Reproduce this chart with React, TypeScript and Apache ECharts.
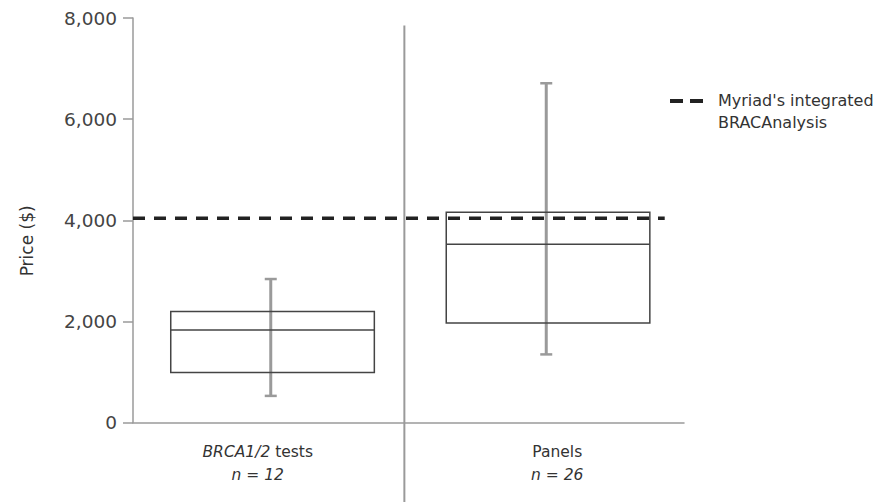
import React, { useEffect, useRef } from "react";
import * as echarts from "echarts";

const categories = ["BRCA1/2 tests", "Panels"];
const sampleSizes = [12, 26];
const whiskerLow = [530, 1350];
const quartile1 = [990, 1970];
const medians = [1830, 3530];
const quartile3 = [2200, 4160];
const whiskerHigh = [2840, 6710];
const myriadPrice = 4040;
const myriadLineEnd = 1.93; // on the hidden 0..2 value axis
const dividerPos = [0.985, 7850];
const yMin = 0;
const yMax = 8000;
const yInterval = 2000;
const legendName = "Myriad's integrated BRACAnalysis";

const FONT = "DejaVu Sans";

export default function App() {
  const ref = useRef<HTMLDivElement>(null);
  useEffect(() => {
    if (!ref.current) return;
    const chart = echarts.init(ref.current, null, { renderer: "svg" });
    const boxData = categories.map((_, i) => [
      i,
      whiskerLow[i],
      quartile1[i],
      medians[i],
      quartile3[i],
      whiskerHigh[i],
    ]);
    const option: any = {
      animation: false,
      backgroundColor: "#ffffff",
      grid: {
        left: 133,
        right: 199,
        top: 18,
        bottom: 79.3,
        containLabel: false,
        outerBoundsMode: "none",
      },
      legend: {
        data: [legendName],
        left: 670,
        top: 89,
        padding: 0,
        itemWidth: 43,
        itemHeight: 24,
        icon:
          "path://M0,0h13v4h-13z M20,0h13v4h-13z M0,23.9h0.1v0.1h-0.1z M42.9,23.9h0.1v0.1h-0.1z",
        itemStyle: { color: "#222", borderWidth: 0 },
        formatter: () => "Myriad's integrated\nBRACAnalysis",
        textStyle: {
          fontFamily: FONT,
          fontSize: 16,
          color: "#333",
          lineHeight: 22,
        },
      },
      xAxis: [
        {
          type: "category",
          data: categories,
          boundaryGap: true,
          axisLine: { show: true, lineStyle: { color: "#9a9a9a", width: 1.5 } },
          axisTick: { show: false },
          splitLine: { show: false },
          axisLabel: {
            margin: 18,
            interval: 0,
            formatter: (value: string, index: number) => {
              if (index === 0) {
                return `{i|BRCA1/2}{rp| tests}\n{ip|n = ${sampleSizes[0]}}`;
              }
              return `{rq|${value}}\n{iq|n = ${sampleSizes[1]}}`;
            },
            rich: {
              i: { fontFamily: FONT, fontSize: 15.5, fontStyle: "italic", color: "#333", lineHeight: 23 },
              rp: { fontFamily: FONT, fontSize: 15.5, color: "#333", lineHeight: 23, padding: [0, 26, 0, 0] },
              ip: { fontFamily: FONT, fontSize: 15.5, fontStyle: "italic", color: "#333", lineHeight: 23, padding: [0, 26, 0, 0] },
              rq: { fontFamily: FONT, fontSize: 15.5, color: "#333", lineHeight: 23, padding: [0, 0, 0, 22] },
              iq: { fontFamily: FONT, fontSize: 15.5, fontStyle: "italic", color: "#333", lineHeight: 23, padding: [0, 0, 0, 22] },
            },
          },
        },
        {
          type: "value",
          min: 0,
          max: 2,
          show: false,
        },
      ],
      yAxis: {
        type: "value",
        min: yMin,
        max: yMax,
        interval: yInterval,
        name: "Price ($)",
        nameLocation: "middle",
        nameGap: 98,
        nameTextStyle: {
          fontFamily: FONT,
          fontSize: 17,
          color: "#333",
          padding: [0, 41, 0, 0],
        },
        axisLine: { show: true, lineStyle: { color: "#9a9a9a", width: 1.5 } },
        axisTick: { show: true, inside: false, length: 10, lineStyle: { color: "#9a9a9a", width: 1.5 } },
        splitLine: { show: false },
        axisLabel: {
          margin: 16,
          fontFamily: FONT,
          fontSize: 18.5,
          color: "#444",
          formatter: (v: number) => v.toLocaleString("en-US"),
        },
      },
      series: [
        {
          type: "custom",
          name: "divider",
          xAxisIndex: 1,
          yAxisIndex: 0,
          data: [dividerPos],
          silent: true,
          clip: false,
          z: 1,
          renderItem: (params: any, api: any) => {
            const p = api.coord([api.value(0), api.value(1)]);
            return {
              type: "line",
              shape: { x1: p[0], y1: p[1], x2: p[0], y2: api.getHeight() },
              style: { stroke: "#9a9a9a", lineWidth: 2 },
            };
          },
        },
        {
          type: "custom",
          name: "boxes",
          xAxisIndex: 0,
          yAxisIndex: 0,
          data: boxData,
          encode: { x: 0, y: [1, 2, 3, 4, 5] },
          z: 2,
          renderItem: (params: any, api: any) => {
            const idx = api.value(0);
            const lowP = api.coord([idx, api.value(1)]);
            const q1P = api.coord([idx, api.value(2)]);
            const medP = api.coord([idx, api.value(3)]);
            const q3P = api.coord([idx, api.value(4)]);
            const highP = api.coord([idx, api.value(5)]);
            const band = api.size([1, 0])[0];
            const cx = lowP[0];
            const left = cx - band * 0.363;
            const right = cx + band * 0.376;
            const cap = 6;
            const whisk = { stroke: "#9a9a9a", lineWidth: 3 };
            const capStyle = { stroke: "#9a9a9a", lineWidth: 2.5 };
            const boxStyle = { stroke: "#444", lineWidth: 1.5, fill: "none" };
            return {
              type: "group",
              children: [
                { type: "line", shape: { x1: cx, y1: highP[1], x2: cx, y2: lowP[1] }, style: whisk },
                { type: "line", shape: { x1: cx - cap, y1: highP[1], x2: cx + cap, y2: highP[1] }, style: capStyle },
                { type: "line", shape: { x1: cx - cap, y1: lowP[1], x2: cx + cap, y2: lowP[1] }, style: capStyle },
                {
                  type: "rect",
                  shape: { x: left, y: q3P[1], width: right - left, height: q1P[1] - q3P[1] },
                  style: boxStyle,
                },
                { type: "line", shape: { x1: left, y1: medP[1], x2: right, y2: medP[1] }, style: { stroke: "#444", lineWidth: 1.5 } },
              ],
            };
          },
        },
        {
          type: "line",
          name: legendName,
          xAxisIndex: 1,
          yAxisIndex: 0,
          data: [
            [0, myriadPrice],
            [myriadLineEnd, myriadPrice],
          ],
          symbol: "none",
          color: "#222",
          lineStyle: { color: "#222", width: 3.5, type: [12, 9] },
          z: 3,
        },
      ],
    };
    chart.setOption(option);
    return () => chart.dispose();
  }, []);
  return (
    <div
      ref={ref}
      style={{ position: "fixed", left: 0, top: 0, width: 883, height: 502, background: "#fff" }}
    />
  );
}
